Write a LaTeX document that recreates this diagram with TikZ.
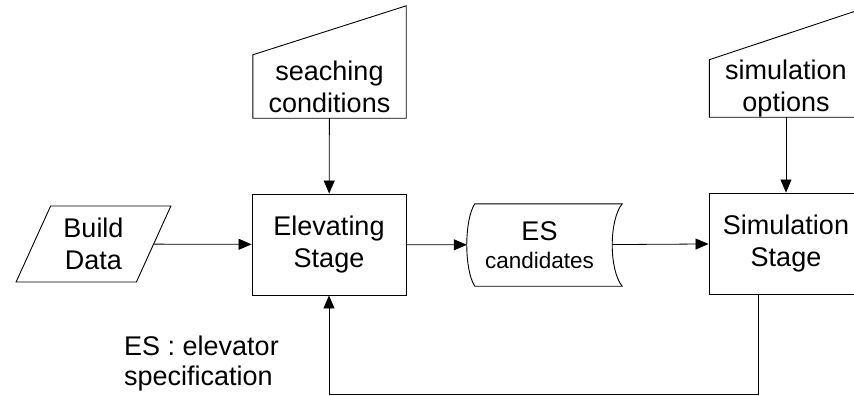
\documentclass[tikz,border=0pt]{standalone}
\usepackage{fontspec}
\setmainfont{Liberation Sans}
\usetikzlibrary{arrows.meta,calc,shapes.geometric}
\tikzset{
  asama/.style={draw,line width=0.9pt,minimum width=154pt,minimum height=101pt,align=center,inner sep=0pt},
  girdi/.style={minimum width=153pt,minimum height=63pt,align=center,inner sep=0pt},
  ok/.style={-{Triangle[length=13pt,width=11pt]},line width=0.8pt},
  cizgi/.style={line width=0.9pt}
}

\begin{document}
\begin{tikzpicture}[x=1pt,y=-1pt,font=\fontsize{27}{32}\selectfont]
\clip (0,0) rectangle (854,396);
\node[asama] (elev) at (329,244.5) {Elevating\\Stage};
\node[asama] (sim) at (786,243.5) {Simulation\\Stage};
\node[draw,cizgi,trapezium,trapezium left angle=65,trapezium right angle=115,trapezium stretches,
  minimum width=155pt,minimum height=76pt,align=center,inner sep=0pt] (build) at (93.5,244) {Build\\Data};
\node[girdi] (cond) at (329.5,86.5) {seaching\\conditions};
\node[girdi,minimum height=57pt] (opt) at (786,88.5) {simulation\\options};
\node[minimum width=145pt,minimum height=82pt,align=center,inner sep=0pt] (cand) at (539.5,245)
  {ES\\[-4pt]{\fontsize{22.5}{28}\selectfont candidates}};
% manual input outlines
\draw[cizgi] (cond.south west) -- (cond.south east) -- ($(cond.north east)+(0,-49)$) -- (cond.north west) -- cycle;
\draw[cizgi] (opt.south west) -- (opt.south east) -- ($(opt.north east)+(0,-51)$) -- (opt.north west) -- cycle;
% stored data outline
\draw[cizgi] ($(cand.north west)+(8,0)$) -- ($(cand.north east)+(10,0)$)
  .. controls ($(cand.east)+(-3.3,-25)$) and ($(cand.east)+(-3.3,25)$) .. ($(cand.south east)+(10,0)$)
  -- ($(cand.south west)+(8,0)$)
  .. controls ($(cand.west)+(-2.7,25)$) and ($(cand.west)+(-2.7,-25)$) .. cycle;
\draw[ok] (build) -- (elev);
\draw[ok] (elev) -- (cand);
\draw[ok] (cand) -- (sim);
\draw[ok] (cond) -- (elev);
\draw[ok] (opt) -- (sim);
\draw[ok] ([xshift=-28pt]sim.south) -- ++(0,100) -| (elev.south);
\node[align=left,anchor=north west,inner sep=0pt] (note) at (124,335.5) {ES : elevator\\[-2pt]specification};
\end{tikzpicture}
\end{document}
